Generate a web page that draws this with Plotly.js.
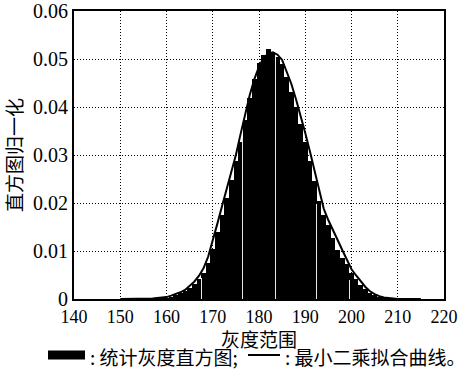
<!DOCTYPE html>
<html>
<head>
<meta charset="utf-8">
<script src="https://cdn.plot.ly/plotly-3.0.1.min.js"></script>
<style>html,body{margin:0;padding:0;background:#fff;}#chart{width:469px;height:373px;}</style>
</head>
<body>
<div id="chart"></div>
<script>
// Histogram bins (grey level) and normalised counts
var binX = [157,158,159,160,161,162,163,164,165,166,167,168,169,170,171,172,173,174,175,176,177,178,179,180,181,182,183,184,185,186,187,188,189,190,191,192,193,194,195,196,197,198,199,200,201,202,203,204,205,206,207,208,209];
var binY = [0.0001,0.00015,0.0002,0.0003,0.0005,0.0008,0.0012,0.0016,0.0023,0.0031,0.0042,0.0055,0.0075,0.0104,0.0139,0.0175,0.0211,0.0247,0.0287,0.0328,0.0372,0.0418,0.0458,0.0491,0.0508,0.0520,0.0515,0.0505,0.0490,0.0462,0.0432,0.0400,0.0364,0.0327,0.0288,0.0245,0.0205,0.0176,0.0154,0.0128,0.0103,0.0085,0.0072,0.0055,0.0042,0.0030,0.0020,0.0013,0.0008,0.0005,0.0003,0.0002,0.0001];
// Thin white seams visible between some bars
var seamX = [167.5,176.5,183.5,192.5,199.5];
var seamY = [0.0044,0.0335,0.0510,0.0198,0.0040];
// Least-squares fitted curve
var fitX = [150,155,156,157,158,159,160,161,162,163,164,165,166,167,168,169,170,171,172,173,174,175,176,177,178,179,180,181,182,183,184,185,186,187,188,189,190,191,192,193,194,195,196,197,198,199,200,201,202,203,204,205,206,207,208,209,210,215];
var fitY = [0,0,0.0001,0.0001,0.0002,0.0003,0.0004,0.0007,0.0010,0.0014,0.0019,0.0027,0.0036,0.0048,0.0064,0.0088,0.0121,0.0157,0.0193,0.0229,0.0265,0.0300,0.0343,0.0387,0.0425,0.0458,0.0484,0.0502,0.0511,0.0514,0.0509,0.0498,0.0475,0.0448,0.0416,0.0383,0.0346,0.0308,0.0268,0.0222,0.0188,0.0164,0.0145,0.0123,0.0102,0.0082,0.0062,0.0049,0.0036,0.0025,0.0016,0.0010,0.0006,0.0003,0.0002,0.0001,0,0];
var xTicks = [140,150,160,170,180,190,200,210,220];
var yTicks = [0,0.01,0.02,0.03,0.04,0.05,0.06];
var yTickText = ['0','0.01','0.02','0.03','0.04','0.05','0.06'];
var xTitle = '灰度范围';
var yTitle = '直方图归一化';
var legendHist = ': 统计灰度直方图;';
var legendFit = ': 最小二乘拟合曲线。';

var serif = 'Liberation Serif';
var cjk = 'Noto Sans CJK SC';

var traces = [
  {type:'bar', x:binX, y:binY, width:1, marker:{color:'#000', line:{width:0}}, showlegend:false, hoverinfo:'skip'},
  {type:'bar', x:seamX, y:seamY, width:0.18, marker:{color:'#e8e8e8', line:{width:0}}, showlegend:false, hoverinfo:'skip'},
  {type:'scatter', mode:'lines', x:fitX, y:fitY, line:{color:'#000', width:2, shape:'linear'}, showlegend:false, hoverinfo:'skip'}
];

function px2x(p){return (p-74)/370;}
function py2y(p){return (299-p)/288;}

var layout = {
  width:469, height:373,
  margin:{l:74, r:25, t:11, b:74},
  paper_bgcolor:'#fff', plot_bgcolor:'#fff',
  barmode:'overlay', bargap:0,
  xaxis:{range:[140,220], tickvals:xTicks, ticks:'', showline:true, mirror:true, linecolor:'#000', linewidth:2,
         showgrid:true, gridcolor:'#000', gridwidth:1, griddash:'1px,2px', zeroline:false, ticklabelstandoff:0,
         tickfont:{family:serif, size:18, color:'#000'}},
  yaxis:{range:[0,0.06], tickvals:yTicks, ticktext:yTickText, ticks:'', showline:true, mirror:true, linecolor:'#000', linewidth:2,
         showgrid:true, gridcolor:'#000', gridwidth:1, griddash:'1px,2px', zeroline:false,
         tickfont:{family:serif, size:20, color:'#000'},
         title:{text:yTitle, font:{family:cjk, size:19, color:'#000'}, standoff:6}},
  shapes:[
    {type:'rect', xref:'paper', yref:'paper', x0:px2x(48), x1:px2x(85), y0:py2y(359.5), y1:py2y(350.5), fillcolor:'#000', line:{width:0}},
    {type:'line', xref:'paper', yref:'paper', x0:px2x(248), x1:px2x(280), y0:py2y(355), y1:py2y(355), line:{color:'#000', width:2}}
  ],
  annotations:[
    {xref:'paper', yref:'paper', x:0.5, y:py2y(338), xanchor:'center', yanchor:'middle', showarrow:false, text:xTitle, font:{family:cjk, size:19, color:'#000'}},
    {xref:'paper', yref:'paper', x:px2x(88), y:py2y(356), xanchor:'left', yanchor:'middle', showarrow:false, text:legendHist, font:{family:cjk, size:19, color:'#000'}},
    {xref:'paper', yref:'paper', x:px2x(283), y:py2y(356), xanchor:'left', yanchor:'middle', showarrow:false, text:legendFit, font:{family:cjk, size:19, color:'#000'}}
  ]
};
Plotly.newPlot('chart', traces, layout, {staticPlot:true, displayModeBar:false});
</script>
</body>
</html>
